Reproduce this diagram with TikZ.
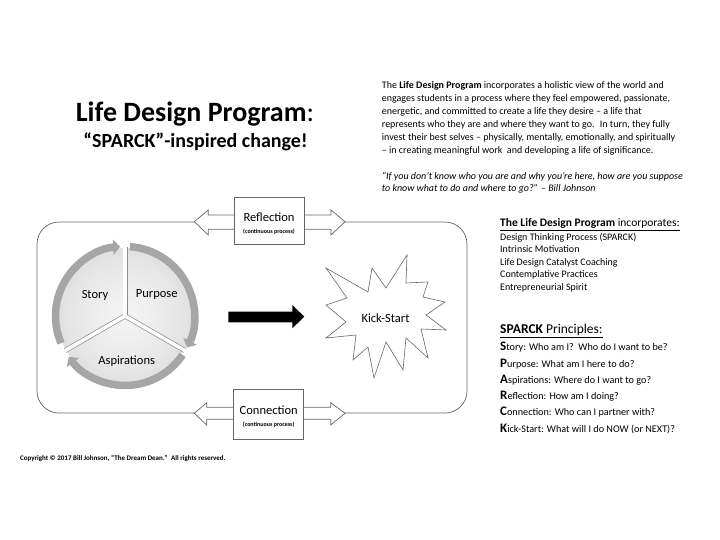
\documentclass[tikz,border=0pt]{standalone}
\usepackage{fontspec}
\setmainfont{Carlito}
\usetikzlibrary{arrows.meta}
\definecolor{discin}{RGB}{246,246,246}
\definecolor{discmid}{RGB}{230,230,230}
\definecolor{discout}{RGB}{190,190,190}
\definecolor{bandgray}{RGB}{166,166,166}
\pgfdeclareradialshading{discshade}{\pgfpoint{0bp}{0bp}}{color(0bp)=(discin); color(20bp)=(discmid); color(50bp)=(discout)}
\newcommand{\firstlet}[1]{{\fontsize{13}{16}\selectfont\bfseries #1}}

\begin{document}
\begin{tikzpicture}[x=1pt,y=1pt,
  blk/.style={draw=black!60, line width=0.7pt},
  band/.style={line width=7.5pt, draw=bandgray, -{Triangle[length=7pt,width=15pt]}},
  procbox/.style={blk, fill=white, minimum width=70pt, minimum height=#1, inner sep=0pt},
  lbl/.style={font=\fontsize{12.5}{15}\selectfont},
  small/.style={font=\fontsize{6}{7}\selectfont\bfseries}]
  \useasboundingbox (0,0) rectangle (720,540);

  \node[anchor=base, font=\fontsize{28}{32}\selectfont\bfseries] (title) at (195,418) {Life Design Program\mdseries:};
  \node[anchor=base, font=\fontsize{20}{24}\selectfont\bfseries] (subtitle) at (195.5,392) {“SPARCK”-inspired change!};

  \node[anchor=north west, align=left, inner sep=0pt, font=\fontsize{10}{12.9}\selectfont] (intro) at (381.7,458.5) {%
    The \textbf{Life Design Program} incorporates a holistic view of the world and\\
    engages students in a process where they feel empowered, passionate,\\
    energetic, and committed to create a life they desire – a life that\\
    represents who they are and where they want to go.~ In turn, they fully\\
    invest their best selves – physically, mentally, emotionally, and spiritually\\
    – in creating meaningful work~ and developing a life of significance.\\[12.9pt]
    \itshape “If you don’t know who you are and why you’re here, how are you suppose\\
    \itshape to know what to do and where to go?” – Bill Johnson};

  \node[anchor=base west, inner sep=0pt, font=\fontsize{11.5}{14}\selectfont] (inchead) at (500,313.3) {\underline{\textbf{The Life Design Program} incorporates:}};
  \node[anchor=north west, align=left, inner sep=0pt, font=\fontsize{10}{12.5}\selectfont] (inclist) at (500,307.2) {%
    Design Thinking Process (SPARCK)\\
    Intrinsic Motivation\\
    Life Design Catalyst Coaching\\
    Contemplative Practices\\
    Entrepreneurial Spirit};

  \node[anchor=base west, inner sep=0pt, font=\fontsize{13.5}{16}\selectfont] (sphead) at (500,206) {\underline{\textbf{SPARCK} Principles:}};
  \node[anchor=north west, align=left, inner sep=0pt, font=\fontsize{10.2}{16.3}\selectfont] (splist) at (500,198) {%
    \firstlet{S}tory: Who am I?~ Who do I want to be?\\
    \firstlet{P}urpose: What am I here to do?\\
    \firstlet{A}spirations: Where do I want to go?\\
    \firstlet{R}eflection: How am I doing?\\
    \firstlet{C}onnection: Who can I partner with?\\
    \firstlet{K}ick-Start: What will I do NOW (or NEXT)?};

  \node[anchor=base west, inner sep=0pt, font=\fontsize{7}{8}\selectfont\bfseries] (copy) at (20,79.3) {Copyright © 2017 Bill Johnson, “The Dream Dean.”~ All rights reserved.};

  \draw[blk, rounded corners=22pt] (37,127) rectangle (467,318);

  \draw[blk, fill=white] (194.3,318.3) -- (208.3,330) -- (208.3,325) -- (331,325) -- (331,330) -- (345,318.3)
    -- (331,305) -- (331,310.7) -- (208.3,310.7) -- (208.3,305) -- cycle;
  \node[procbox=47pt] (refl) at (269,319.2) {};
  \node[anchor=base, lbl] (refltxt) at (269,318.3) {Reflection};
  \node[anchor=base, small] (reflsub) at (269,306.7) {(continuous process)};

  \draw[blk, fill=white] (194.3,126.7) -- (206.7,137.3) -- (206.7,132.7) -- (330.7,132.7) -- (330.7,137.3) -- (345,126.7)
    -- (330.7,115) -- (330.7,120.7) -- (206.7,120.7) -- (206.7,115) -- cycle;
  \node[procbox=50pt] (conn) at (268.7,125.7) {};
  \node[anchor=base, lbl] (conntxt) at (268.7,125) {Connection};
  \node[anchor=base, small] (connsub) at (268.7,113.3) {(continuous process)};

  \shade[shading=discshade] (125,224) circle (68);
  \foreach \a in {90,210,330}
    \draw[black!45, line width=5pt] (125,224) -- ++(\a:69);
  \foreach \a in {90,210,330}
    \draw[white, line width=3.6pt] (125,224) -- ++(\a:76);
  \draw[band] (125,224) ++(203:69.5) arc[start angle=203, end angle=94, radius=69.5];
  \draw[band] (125,224) ++(86:69.5) arc[start angle=86, end angle=-27, radius=69.5];
  \draw[band] (125,224) ++(-34:69.5) arc[start angle=-34, end angle=-144, radius=69.5];
  \node[lbl] (story) at (95,245) {Story};
  \node[lbl] (purpose) at (156.7,245) {Purpose};
  \node[lbl] (aspir) at (126.7,179) {Aspirations};

  \fill[black] (228.3,228.3) -- (292.3,228.3) -- (292.3,235) -- (304.3,223.3) -- (292.3,211.7) -- (292.3,217.7)
    -- (228.3,217.7) -- cycle;

  \draw[blk, line width=0.6pt] (326,272) -- (368,248) -- (372,272) -- (386,252) -- (407,285) -- (406,257)
    -- (428,258) -- (423,243) -- (445,238) -- (426,225) -- (446,210) -- (421,211) -- (428,182) -- (406,202)
    -- (403,170) -- (386,198) -- (374,162) -- (368,193) -- (353,180) -- (356,205) -- (326,202) -- (346,218)
    -- (326,235) -- (347,242) -- cycle;
  \node[lbl] (kick) at (385.5,222) {Kick-Start};
\end{tikzpicture}
\end{document}
